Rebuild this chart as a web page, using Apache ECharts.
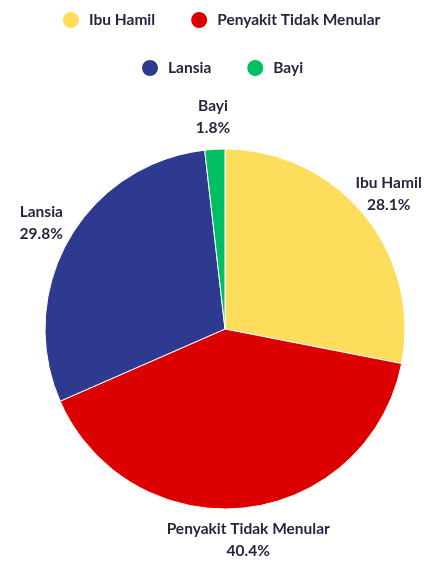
<!DOCTYPE html>
<html>
<head>
<meta charset="utf-8">
<script src="https://cdn.jsdelivr.net/npm/echarts@6/dist/echarts.min.js"></script>
<style>
  html, body { margin: 0; padding: 0; background: #ffffff; }
  #chart { width: 424px; height: 563px; }
</style>
</head>
<body>
<div id="chart"></div>
<script>
// Share of health-service visits by target group (percent)
const categories = ['Ibu Hamil', 'Penyakit Tidak Menular', 'Lansia', 'Bayi'];
const shares = [28.1, 40.4, 29.8, 1.8];
const sliceColors = ['#FFDD5C', '#DD0000', '#2E3A8F', '#00BF63'];

const legendRow1 = ['Ibu Hamil', 'Penyakit Tidak Menular'];
const legendRow2 = ['Lansia', 'Bayi'];

const textColor = '#2B2341';
const fontFamily = 'Lato, "Open Sans", sans-serif';

const pieCenter = [225, 329];
const pieRadius = 180;
const labelRadius = 212;
const startAngle = 90;

// Mid-angle (radians) of each slice, going clockwise from the start angle
const total = shares.reduce((a, b) => a + b, 0);
const midAngles = [];
let acc = 0;
shares.forEach(v => {
  const mid = startAngle - (acc + v / 2) / total * 360;
  midAngles.push(mid * Math.PI / 180);
  acc += v;
});

const chart = echarts.init(document.getElementById('chart'), null, { renderer: 'canvas' });

const legendBase = {
  icon: 'circle',
  itemWidth: 18,
  itemHeight: 18,
  itemGap: 34,
  padding: 5,
  textStyle: {
    color: textColor, fontFamily: fontFamily, fontWeight: 'bold', fontSize: 15.5,
    padding: [0, 0, 0, 4]
  }
};

chart.setOption({
  animation: false,
  color: sliceColors,
  legend: [
    Object.assign({}, legendBase, { top: 5, left: 56, data: legendRow1 }),
    Object.assign({}, legendBase, { top: 53, left: 135, data: legendRow2 })
  ],
  series: [{
    type: 'pie',
    center: pieCenter,
    radius: [0, pieRadius],
    startAngle: startAngle,
    clockwise: true,
    data: categories.map((name, i) => ({ name: name, value: shares[i] })),
    itemStyle: { borderColor: '#ffffff', borderWidth: 1 },
    label: {
      show: true,
      position: 'outside',
      formatter: p => p.name + '\n' + p.value.toFixed(1) + '%',
      color: textColor,
      fontFamily: fontFamily,
      fontWeight: 'bold',
      fontSize: 15.5,
      lineHeight: 22,
      align: 'center',
      overflow: 'none'
    },
    labelLine: { show: false },
    labelLayout: params => {
      const a = midAngles[params.dataIndex];
      return {
        x: pieCenter[0] + labelRadius * Math.cos(a),
        y: pieCenter[1] - labelRadius * Math.sin(a),
        align: 'center',
        verticalAlign: 'middle'
      };
    },
    emphasis: { disabled: true }
  }]
});
</script>
</body>
</html>
